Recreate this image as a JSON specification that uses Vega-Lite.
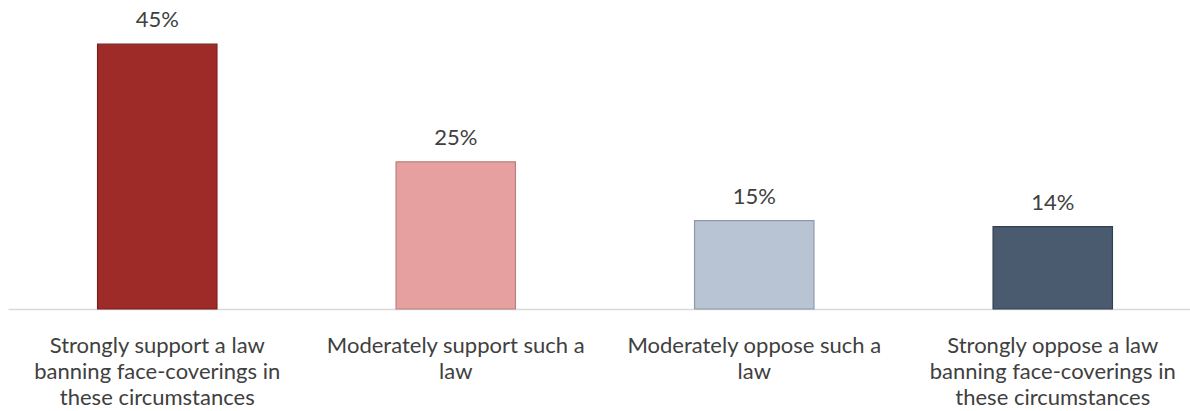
{
  "$schema": "https://vega.github.io/schema/vega-lite/v6.json",
  "autosize": {"type": "none"},
  "width": 1194,
  "height": 309,
  "padding": {"left": 8, "top": 0, "right": 0, "bottom": 102},
  "background": "white",
  "config": {"view": {"stroke": null}, "font": "Lato"},
  "data": {
    "values": [
      {"category": "Strongly support a law|banning face-coverings in|these circumstances", "value": 45, "label": "45%", "order": 1},
      {"category": "Moderately support such a|law", "value": 25, "label": "25%", "order": 2},
      {"category": "Moderately oppose such a|law", "value": 15, "label": "15%", "order": 3},
      {"category": "Strongly oppose a law|banning face-coverings in|these circumstances", "value": 14, "label": "14%", "order": 4}
    ]
  },
  "encoding": {
    "x": {
      "field": "category",
      "type": "nominal",
      "sort": {"field": "order"},
      "scale": {"paddingInner": 0.6, "paddingOuter": 0.3},
      "axis": {
        "title": null,
        "labelAngle": 0,
        "labelExpr": "split(datum.label, '|')",
        "labelFontSize": 22,
        "labelColor": "#404040",
        "labelLineHeight": 26,
        "labelBaseline": "alphabetic",
        "labelPadding": 43,
        "labelLimit": 400,
        "ticks": false,
        "domainColor": "#D9D9D9",
        "domainWidth": 1.5
      }
    },
    "y": {
      "field": "value",
      "type": "quantitative",
      "scale": {"domain": [0, 52.5], "nice": false, "zero": true},
      "axis": null
    }
  },
  "layer": [
    {
      "mark": {"type": "bar", "strokeWidth": 1.2},
      "encoding": {
        "color": {
          "field": "category",
          "type": "nominal",
          "sort": {"field": "order"},
          "scale": {"range": ["#9E2B28", "#E6A09F", "#B8C3D3", "#4A5B70"]},
          "legend": null
        },
        "stroke": {
          "field": "category",
          "type": "nominal",
          "sort": {"field": "order"},
          "scale": {"range": ["#7A1E1C", "#B98080", "#8E99A8", "#33404F"]},
          "legend": null
        }
      }
    },
    {
      "mark": {"type": "text", "baseline": "alphabetic", "dy": -17, "fontSize": 22, "color": "#404040"},
      "encoding": {"text": {"field": "label"}}
    }
  ]
}
